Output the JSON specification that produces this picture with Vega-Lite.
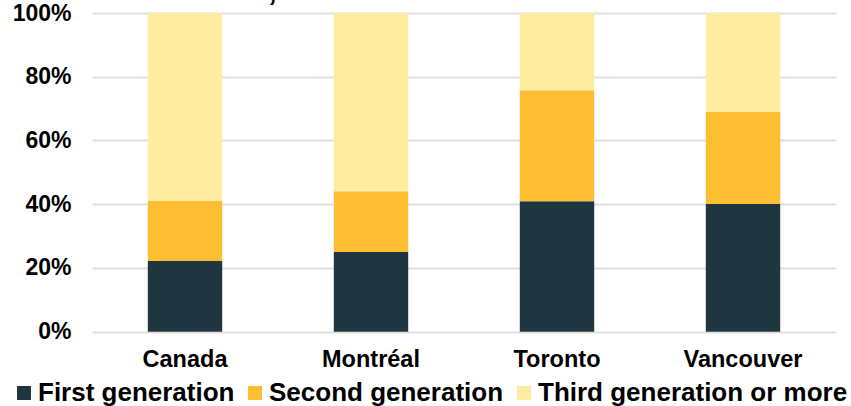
{
  "$schema": "https://vega.github.io/schema/vega-lite/v6.json",
  "width": 744,
  "height": 318.7,
  "autosize": "none",
  "padding": {"left": 92, "top": 13, "right": 15, "bottom": 74.3},
  "title": {
    "text": ["Distribution of the population by generation", "status, Canada and selected CMAs"],
    "fontSize": 31.5,
    "font": "Liberation Sans",
    "fontWeight": "bold",
    "color": "#000000",
    "anchor": "middle",
    "baseline": "bottom",
    "offset": 0,
    "dy": 36,
    "dx": -28
  },
  "data": {
    "values": [
      {"region": "Canada", "generation": "First generation", "o": 1, "value": 22.2},
      {"region": "Canada", "generation": "Second generation", "o": 2, "value": 18.8},
      {"region": "Canada", "generation": "Third generation or more", "o": 3, "value": 59.0},
      {"region": "Montréal", "generation": "First generation", "o": 1, "value": 25.0},
      {"region": "Montréal", "generation": "Second generation", "o": 2, "value": 19.1},
      {"region": "Montréal", "generation": "Third generation or more", "o": 3, "value": 55.9},
      {"region": "Toronto", "generation": "First generation", "o": 1, "value": 40.9},
      {"region": "Toronto", "generation": "Second generation", "o": 2, "value": 34.9},
      {"region": "Toronto", "generation": "Third generation or more", "o": 3, "value": 24.2},
      {"region": "Vancouver", "generation": "First generation", "o": 1, "value": 40.1},
      {"region": "Vancouver", "generation": "Second generation", "o": 2, "value": 28.8},
      {"region": "Vancouver", "generation": "Third generation or more", "o": 3, "value": 31.1}
    ]
  },
  "mark": {"type": "bar"},
  "encoding": {
    "x": {
      "field": "region",
      "type": "nominal",
      "sort": null,
      "scale": {"paddingInner": 0.6, "paddingOuter": 0.3},
      "axis": {
        "title": null,
        "labelAngle": 0,
        "ticks": false,
        "domain": false,
        "labelFontSize": 23.5,
        "labelFontWeight": "bold",
        "labelColor": "#000000",
        "labelFont": "Liberation Sans",
        "labelPadding": 16
      }
    },
    "y": {
      "field": "value",
      "type": "quantitative",
      "stack": "normalize",
      "scale": {"domain": [0, 1]},
      "axis": {
        "title": null,
        "format": ".0%",
        "values": [0, 0.2, 0.4, 0.6, 0.8, 1],
        "ticks": false,
        "domain": false,
        "labelFontSize": 23,
        "labelFontWeight": "bold",
        "labelColor": "#000000",
        "labelFont": "Liberation Sans",
        "labelPadding": 21,
        "gridColor": "#e0e0e0",
        "gridWidth": 2
      }
    },
    "color": {
      "field": "generation",
      "type": "nominal",
      "sort": ["First generation", "Second generation", "Third generation or more"],
      "scale": {"range": ["#1f3640", "#fdbe34", "#feeda0"]},
      "legend": {
        "title": null,
        "orient": "none",
        "direction": "horizontal",
        "legendX": -81,
        "legendY": 367,
        "symbolType": "square",
        "symbolSize": 196,
        "symbolStrokeWidth": 0,
        "symbolOpacity": 1,
        "labelFontSize": 26,
        "labelFontWeight": "bold",
        "labelFont": "Liberation Sans",
        "labelColor": "#000000",
        "labelLimit": 400,
        "labelOffset": 1,
        "columnPadding": 7
      }
    },
    "order": {"field": "o", "type": "quantitative", "sort": "ascending"}
  },
  "config": {
    "view": {"stroke": null},
    "axis": {"gridOpacity": 1}
  }
}
